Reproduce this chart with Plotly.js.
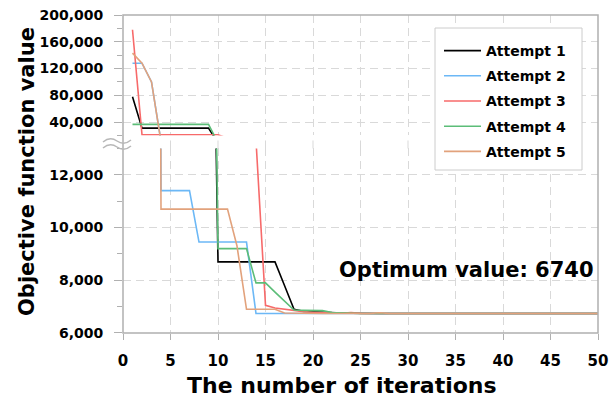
<!DOCTYPE html>
<html>
<head>
<meta charset="utf-8">
<script src="https://cdn.plot.ly/plotly-3.0.1.min.js"></script>
<style>html,body{margin:0;padding:0;background:#fff;}#chart{width:616px;height:399px;}</style>
</head>
<body>
<div id="chart"></div>
<script>
// ---- data ----
const iterations = [1,2,3,4,5,6,7,8,9,10,11,12,13,14,15,16,17,18,19,20,21,22,23,24,25,26,27,28,29,30,31,32,33,34,35,36,37,38,39,40,41,42,43,44,45,46,47,48,49,50];
const attempt1 = [78000,31000,31000,31000,31000,31000,31000,31000,31000,8700,8700,8700,8700,8700,8700,8700,7800,6900,6820,6800,6790,6770,6760,6750,6740,6740,6740,6740,6740,6740,6740,6740,6740,6740,6740,6740,6740,6740,6740,6740,6740,6740,6740,6740,6740,6740,6740,6740,6740,6740];
const attempt2 = [128000,128000,100000,11400,11400,11400,11400,9450,9450,9450,9450,9450,9450,6740,6740,6740,6740,6740,6740,6740,6740,6740,6740,6740,6740,6740,6740,6740,6740,6740,6740,6740,6740,6740,6740,6740,6740,6740,6740,6740,6740,6740,6740,6740,6740,6740,6740,6740,6740,6740];
const attempt3 = [178000,21000,21000,21000,21000,21000,21000,21000,21000,21000,16000,15000,14000,13300,7050,6950,6900,6850,6810,6790,6780,6760,6750,6780,6745,6740,6740,6740,6740,6740,6740,6740,6740,6740,6740,6740,6740,6740,6740,6740,6740,6740,6740,6740,6740,6740,6740,6740,6740,6740];
const attempt4 = [36600,36600,36600,36600,36600,36600,36600,36600,36600,9200,9200,9200,9200,7900,7900,7550,7200,6870,6860,6850,6850,6780,6760,6750,6740,6740,6740,6740,6740,6740,6740,6740,6740,6740,6740,6740,6740,6740,6740,6740,6740,6740,6740,6740,6740,6740,6740,6740,6740,6740];
const attempt5 = [143000,128000,100000,10700,10700,10700,10700,10700,10700,10700,10700,9300,6900,6900,6900,6900,6760,6750,6745,6740,6740,6740,6740,6740,6740,6740,6770,6740,6740,6740,6740,6740,6740,6740,6740,6740,6740,6740,6740,6740,6740,6740,6740,6740,6740,6740,6740,6740,6740,6740];
const seriesNames = ["Attempt 1","Attempt 2","Attempt 3","Attempt 4","Attempt 5"];
const xTicks = [0,5,10,15,20,25,30,35,40,45,50];
const lowerTicks = [6000,8000,10000,12000];
const upperTicks = [40000,80000,120000,160000,200000];
const optimumText = "Optimum value: 6740";

// ---- styling ----
const colors = ["#000000","#6cb8f6","#f76a6a","#5cbd78","#e2a27c"];
const allSeries = [attempt1,attempt2,attempt3,attempt4,attempt5];
const FONT = "DejaVu Sans, Arial, sans-serif";
const gridCol = "#d9d9d9";
const axCol = "#b0b0b0";
const lowDom = [0, 0.5802];
const upDom = [0.6211, 1];

const traces = [];
allSeries.forEach((ys, i) => {
  traces.push({x: iterations, y: ys, xaxis: "x", yaxis: "y", type: "scatter", mode: "lines",
    name: seriesNames[i], legendgroup: "g" + i, line: {color: colors[i], width: 1.6}, hoverinfo: "skip"});
});
allSeries.forEach((ys, i) => {
  traces.push({x: iterations, y: ys, xaxis: "x2", yaxis: "y2", type: "scatter", mode: "lines",
    name: seriesNames[i], legendgroup: "g" + i, showlegend: false, line: {color: colors[i], width: 1.6}, hoverinfo: "skip"});
});

const tickFont = {family: FONT, size: 14, color: "#000", weight: "bold"};

// pixel helpers for decorative shapes (plot area: x 123..598, y 15..333)
const px = v => (v - 123) / 475;
const py = v => (333 - v) / 318;
function wave(y0) {
  return "M " + px(103) + "," + py(y0 + 1) +
         " Q " + px(110) + "," + py(y0 - 5) + " " + px(117) + "," + py(y0) +
         " Q " + px(124) + "," + py(y0 + 5) + " " + px(131) + "," + py(y0 - 1);
}

const shapes = [
  {type: "rect", xref: "paper", yref: "paper", x0: 0, x1: 1, y0: 0, y1: 1, line: {color: axCol, width: 1.5}, layer: "above"},
  {type: "rect", xref: "paper", yref: "paper", x0: px(435), x1: px(582), y0: py(170), y1: py(28),
    fillcolor: "#ffffff", line: {color: "#cccccc", width: 1}, layer: "above"},
  {type: "path", xref: "paper", yref: "paper", path: wave(141), line: {color: "#b8b8b8", width: 1.5}},
  {type: "path", xref: "paper", yref: "paper", path: wave(147), line: {color: "#b8b8b8", width: 1.5}}
];
xTicks.slice(1, -1).forEach(t => {
  shapes.push({type: "line", xref: "x", yref: "paper", x0: t, x1: t, y0: lowDom[1], y1: upDom[0],
    line: {color: gridCol, width: 1, dash: "8px,5px"}, layer: "below"});
});

const layout = {
  width: 616, height: 399,
  margin: {l: 123, r: 18, t: 15, b: 66},
  paper_bgcolor: "#fff", plot_bgcolor: "#fff",
  showlegend: true,
  legend: {x: px(439), y: py(35), xanchor: "left", yanchor: "top", bgcolor: "rgba(0,0,0,0)",
    borderwidth: 0, font: {family: FONT, size: 14, color: "#000", weight: "bold"},
    itemwidth: 37, tracegroupgap: 4, traceorder: "grouped"},
  xaxis: {domain: [0, 1], anchor: "y", range: [0, 50], tickvals: xTicks, ticktext: xTicks.map(String),
    ticks: "outside", ticklen: 6, tickcolor: axCol, tickfont: {family: FONT, size: 15, color: "#000", weight: "bold"},
    ticklabelstandoff: 8, showgrid: true, gridcolor: gridCol, griddash: "8px,5px", gridwidth: 1,
    showline: false, zeroline: false},
  xaxis2: {domain: [0, 1], anchor: "y2", range: [0, 50], tickvals: xTicks, showticklabels: false, ticks: "",
    showgrid: true, gridcolor: gridCol, griddash: "8px,5px", gridwidth: 1, showline: false, zeroline: false},
  yaxis: {domain: lowDom, anchor: "x", range: [6000, 13000], tickvals: lowerTicks, tickformat: ",",
    ticks: "outside", ticklen: 8, tickcolor: axCol, tickfont: tickFont, ticklabelstandoff: 8,
    minor: {ticks: "outside", ticklen: 5, tickcolor: axCol, dtick: 1000, tick0: 0, showgrid: false},
    showgrid: true, gridcolor: gridCol, griddash: "8px,5px", showline: false, zeroline: false},
  yaxis2: {domain: upDom, anchor: "x2", range: [20000, 200000], tickvals: upperTicks, tickformat: ",",
    ticks: "outside", ticklen: 8, tickcolor: axCol, tickfont: tickFont, ticklabelstandoff: 8,
    minor: {ticks: "outside", ticklen: 5, tickcolor: axCol, dtick: 20000, tick0: 0, showgrid: false},
    showgrid: true, gridcolor: gridCol, griddash: "8px,5px", showline: false, zeroline: false},
  shapes: shapes,
  annotations: [
    {xref: "paper", yref: "paper", x: px(466), y: py(270), text: optimumText, showarrow: false,
      xanchor: "center", yanchor: "middle", font: {family: FONT, size: 21, color: "#000", weight: "bold"}},
    {xref: "paper", yref: "paper", x: px(27), y: py(172), text: "Objective function value", showarrow: false,
      textangle: -90, xanchor: "center", yanchor: "middle", font: {family: FONT, size: 21, color: "#000", weight: "bold"}},
    {xref: "paper", yref: "paper", x: px(342), y: py(385), text: "The number of iterations", showarrow: false,
      xanchor: "center", yanchor: "middle", font: {family: FONT, size: 22, color: "#000", weight: "bold"}}
  ]
};

Plotly.newPlot("chart", traces, layout, {staticPlot: true, displayModeBar: false});
</script>
</body>
</html>
